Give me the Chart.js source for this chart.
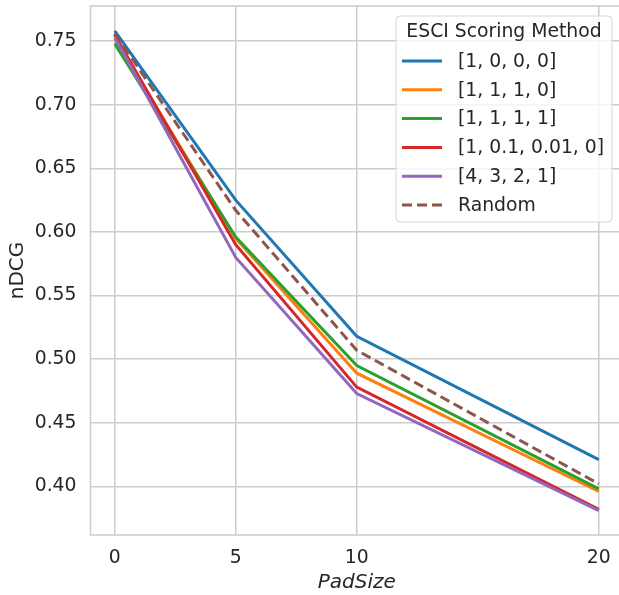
<!DOCTYPE html>
<html>
<head>
<meta charset="utf-8">
<script src="https://cdn.jsdelivr.net/npm/chart.js@4/dist/chart.umd.min.js"></script>
<style>
  html, body { margin: 0; padding: 0; background: #fff; overflow: hidden; }
  #wrap { width: 625px; height: 595px; }
</style>
</head>
<body>
<div id="wrap"><canvas id="chart"></canvas></div>
<script>
// ======================
// DATA
// ======================
const padSizes = [0, 5, 10, 20];
const xTicks = [0, 5, 10, 20];
const yTicks = [0.40, 0.45, 0.50, 0.55, 0.60, 0.65, 0.70, 0.75];

const labels = ["[1, 0, 0, 0]", "[1, 1, 1, 0]", "[1, 1, 1, 1]", "[1, 0.1, 0.01, 0]", "[4, 3, 2, 1]", "Random"];
const colors = ["#1f77b4", "#ff7f0e", "#2ca02c", "#d62728", "#9467bd", "#8c564b"];

const score1000 = [0.758, 0.625, 0.518, 0.421];
const score1110 = [0.752, 0.595, 0.489, 0.396];
const score1111 = [0.748, 0.596, 0.495, 0.398];
const scoreDecay = [0.755, 0.590, 0.478, 0.382];
const score4321 = [0.753, 0.580, 0.473, 0.381];
const scoreRandom = [0.756, 0.617, 0.507, 0.402];

const series = [score1000, score1110, score1111, scoreDecay, score4321, scoreRandom];

const FONT = "'DejaVu Sans', sans-serif";
const TEXT = "#262626";
const GRID = "#cccccc";
const TICK_SIZE = 18.8;

// frame (spines) + legend drawn on canvas
const framePlugin = {
  id: "frame",
  beforeDatasetsDraw(chart) {
    const a = chart.chartArea;
    const ctx = chart.ctx;
    ctx.save();
    ctx.strokeStyle = GRID;
    ctx.lineWidth = 1.5;
    ctx.strokeRect(a.left, a.top, a.right - a.left, a.bottom - a.top);
    ctx.restore();
  }
};

const legendPlugin = {
  id: "boxLegend",
  afterDatasetsDraw(chart) {
    const ctx = chart.ctx;
    const x0 = 396, y0 = 16, w = 216, h = 206;
    ctx.save();
    ctx.beginPath();
    ctx.roundRect(x0, y0, w, h, 4);
    ctx.fillStyle = "rgba(255,255,255,0.8)";
    ctx.fill();
    ctx.strokeStyle = "#d6d6d6";
    ctx.lineWidth = 1;
    ctx.stroke();

    ctx.fillStyle = TEXT;
    ctx.font = TICK_SIZE + "px " + FONT;
    ctx.textBaseline = "middle";
    ctx.textAlign = "center";
    ctx.fillText("ESCI Scoring Method", x0 + w / 2, 32);

    ctx.textAlign = "left";
    chart.data.datasets.forEach((ds, i) => {
      const y = 61 + i * 28.8;
      ctx.beginPath();
      ctx.strokeStyle = ds.borderColor;
      ctx.lineWidth = ds.borderWidth;
      ctx.setLineDash(ds.borderDash || []);
      ctx.moveTo(402, y);
      ctx.lineTo(442, y);
      ctx.stroke();
      ctx.setLineDash([]);
      ctx.fillStyle = TEXT;
      ctx.fillText(ds.label, 458, y + 1);
    });
    ctx.restore();
  }
};

const datasets = series.map((vals, i) => ({
  label: labels[i],
  data: padSizes.map((x, j) => ({ x: x, y: vals[j] })),
  borderColor: colors[i],
  backgroundColor: colors[i],
  borderWidth: 3,
  borderDash: labels[i] === "Random" ? [10, 5] : [],
  pointRadius: 0,
  tension: 0,
  order: series.length - i
}));

new Chart(document.getElementById("chart"), {
  type: "line",
  data: { datasets: datasets },
  options: {
    responsive: true,
    maintainAspectRatio: false,
    animation: false,
    layout: { padding: { top: 6, right: 2, left: 0, bottom: 0 } },
    plugins: {
      legend: { display: false },
      tooltip: { enabled: false }
    },
    scales: {
      x: {
        type: "linear",
        min: -1,
        max: 21,
        afterBuildTicks: s => { s.ticks = xTicks.map(v => ({ value: v })); },
        afterFit: s => { s.height = 60; s.paddingLeft = 0; s.paddingRight = 0; },
        grid: { color: GRID, lineWidth: 1.5, drawTicks: false },
        border: { display: false },
        ticks: {
          color: TEXT,
          font: { family: FONT, size: TICK_SIZE },
          padding: 12,
          maxRotation: 0
        },
        title: {
          display: true,
          text: "PadSize",
          color: TEXT,
          font: { family: FONT, size: 20, style: "italic" },
          padding: { top: 2, bottom: 0 }
        }
      },
      y: {
        type: "linear",
        min: 0.3618,
        max: 0.7776,
        afterBuildTicks: s => { s.ticks = yTicks.map(v => ({ value: v })); },
        afterFit: s => { s.width = 90.5; s.paddingTop = 0; s.paddingBottom = 0; },
        grid: { color: GRID, lineWidth: 1.5, drawTicks: false },
        border: { display: false },
        ticks: {
          color: TEXT,
          font: { family: FONT, size: TICK_SIZE },
          padding: 14,
          callback: v => v.toFixed(2)
        },
        title: {
          display: true,
          text: "nDCG",
          color: TEXT,
          font: { family: FONT, size: 20 },
          padding: { top: 6, bottom: 4 }
        }
      }
    }
  },
  plugins: [framePlugin, legendPlugin]
});
</script>
</body>
</html>
